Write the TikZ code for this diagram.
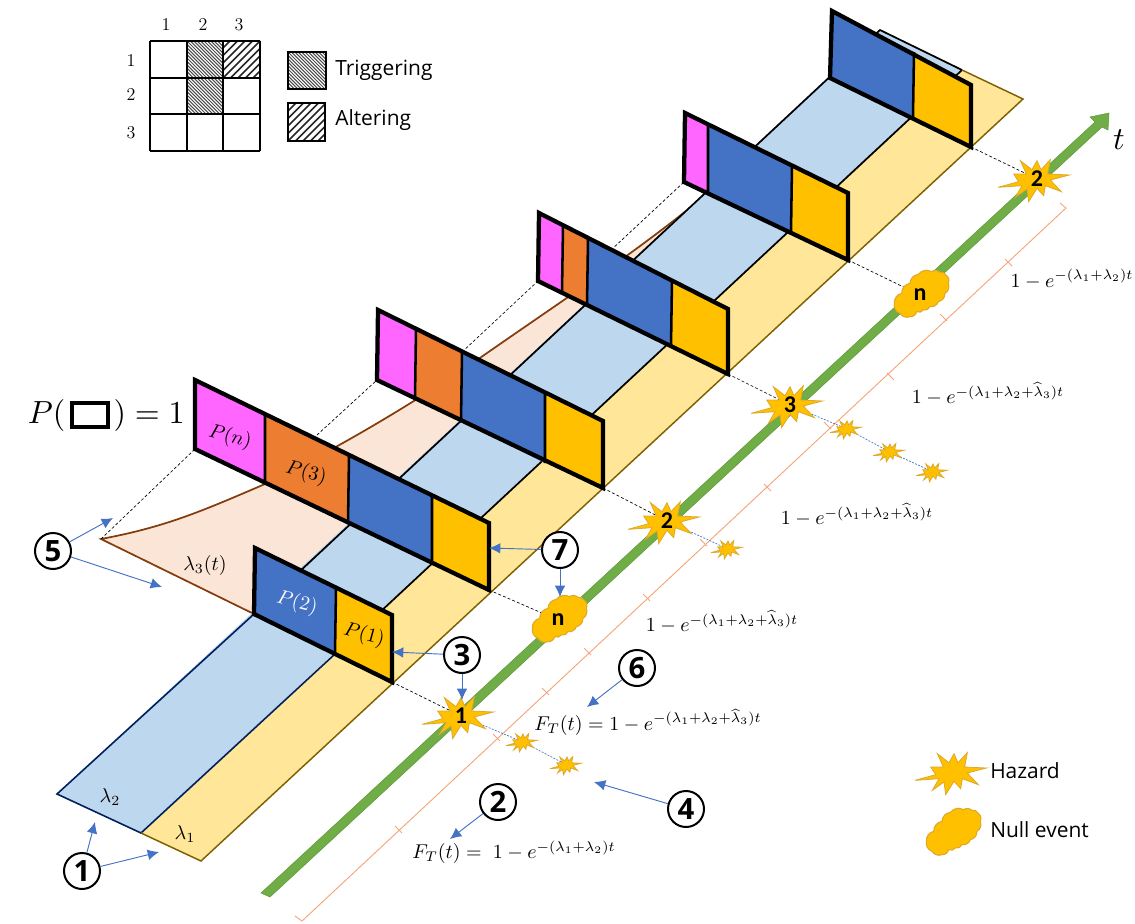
\documentclass[tikz,border=0pt]{standalone}
\usepackage{amsmath}
\usepackage{fontspec}
\newfontfamily\uifont{Open Sans}
\newfontfamily\eventfont{Carlito}
\usetikzlibrary{arrows.meta,calc}
\definecolor{pblue}{HTML}{4472C4}
\definecolor{pyellow}{HTML}{FFC000}
\definecolor{ppink}{HTML}{FF66FF}
\definecolor{porange}{HTML}{ED7D31}
\definecolor{lblue}{HTML}{BDD7EE}
\definecolor{lyellow}{HTML}{FFE699}
\definecolor{lorange}{HTML}{FBE5D6}
\definecolor{brownline}{HTML}{843C0C}
\definecolor{navyline}{HTML}{002060}
\definecolor{olivedge}{HTML}{7F6000}
\definecolor{axisgreen}{HTML}{70AD47}
\definecolor{axisedge}{HTML}{5E9A3A}
\definecolor{bracket}{HTML}{F4A67A}
\definecolor{goldedge}{HTML}{DDA92A}
\newcommand{\hatchcell}[8]{%
  \begin{scope}
    \clip (#1,#2) rectangle (#3,#4);
    \foreach \k in {-22,...,22} {
      \ifnum#5=1
        \draw[line width=#7,#8] ($(#1,#2)+(\k*#6,0)$) -- ++(80,80);
        \draw[line width=#7,#8] ($(#1,#2)+(\k*#6,0)$) -- ++(-80,-80);
      \else
        \draw[line width=#7,#8] ($(#1,#4)+(\k*#6,0)$) -- ++(80,-80);
        \draw[line width=#7,#8] ($(#1,#4)+(\k*#6,0)$) -- ++(-80,80);
      \fi
    }
  \end{scope}}
\tikzset{
  x=0.75pt,y=-0.75pt,
  hazardshape/.pic={\filldraw[fill=pyellow,draw=goldedge,line width=0.6pt,line join=miter]
    (-117,25)--(-55,8)--(-70,-15)--(-32,-15)--(-50,-55)--(-15,-28)--(0,-55)--(12,-28)--(40,-58)--(32,-15)--(97,-12)--(40,3)--(73,38)--(25,20)--(20,50)--(0,28)--(-25,68)--(-30,30)--(-65,55)--(-45,20)--cycle;},
  cloudshape/.pic={\filldraw[fill=pyellow,draw=goldedge,line width=0.8pt]
    (-77,25) to[bend left=40] (-55,-5) to[bend left=40] (-30,-35) to[bend left=40] (-5,-62) to[bend left=40] (35,-70) to[bend left=40] (60,-68) to[bend left=40] (78,-60) to[bend left=40] (85,-35) to[bend left=40] (75,-5) to[bend left=40] (55,20) to[bend left=40] (30,35) to[bend left=40] (10,45) to[bend left=40] (-10,50) to[bend left=40] (-30,65) to[bend left=40] (-60,55) to[bend left=40] cycle;},
  numcircle/.style={circle,draw=black,line width=1.5pt,fill=white,minimum size=27pt,inner sep=0pt,font=\uifont\bfseries\fontsize{22}{22}\selectfont},
  eventlabel/.style={inner sep=0pt,font=\eventfont\bfseries\fontsize{18}{18}\selectfont},
  callout/.style={draw=pblue,line width=0.7pt,-{Latex[length=8.5pt,width=8pt]}},
  panel/.style={draw=black,line width=3.2pt,line join=miter},
  divider/.style={draw=black,line width=1.9pt},
  guide/.style={draw=black,line width=0.5pt,dash pattern=on 2.2pt off 1.6pt},
  trail/.style={draw=pblue,line width=0.5pt,dash pattern=on 1.5pt off 1pt},
  tickmark/.style={draw=bracket,line width=0.7pt},
  mathlabel/.style={inner sep=0pt,scale=1.5},
  ptext/.style={inner sep=0pt,scale=1.5,rotate=-15},
  uitext/.style={inner sep=0pt,anchor=west,font=\uifont\fontsize{15.7}{15.7}\selectfont},
  gridnum/.style={inner sep=0pt,font=\fontsize{13.5}{13.5}\selectfont},
  cellbox/.style={draw=black,line width=1.4pt}
}
\begin{document}
\begin{tikzpicture}
\useasboundingbox (0,0) rectangle (1135,924);
% ribbon coordinates
\coordinate (A) at (57,794); \coordinate (B) at (141,833); \coordinate (C) at (201,861);
\coordinate (Atop) at (880,30); \coordinate (Btop) at (962,70); \coordinate (Ctop) at (1023,99);
\coordinate (apex) at (101,539);
% lambda 3 area
\fill[lorange] (apex) .. controls (165,527) and (200,512) .. (265,484) .. controls (330,452) and (400,412) .. (477,360) .. controls (560,302) and (640,250) .. (708,193) -- (254,614) -- cycle;
\draw[brownline,line width=1.3pt] (254,614) -- (apex) .. controls (165,527) and (200,512) .. (265,484) .. controls (330,452) and (400,412) .. (477,360) .. controls (560,302) and (640,250) .. (708,193);
% bands
\fill[lblue] (A) -- (B) -- (Btop) -- (Atop) -- cycle;
\fill[lyellow] (B) -- (C) -- (Ctop) -- (Btop) -- cycle;
\draw[navyline,line width=1.2pt] (254,614) -- (A) -- (B) -- (335,654);
\draw[black,line width=1.3pt] (254,614) -- (Atop) -- (Btop);
\draw[black,line width=1.3pt] (335,654) -- (Btop);
\draw[olivedge,line width=1.1pt] (B) -- (C) -- (Ctop) -- (Btop);
% dotted guides
\draw[guide] (apex) -- (195,449);
\draw[guide] (317,435) -- (377,380);
\draw[guide] (462,352) -- (538,281);
\draw[guide] (611,250) -- (684,182);
% panel 6
\fill[pblue] (832,11) -- (914,52) -- (913,117) -- (830,78) -- cycle;
\fill[pyellow] (914,52) -- (971,85) -- (971,147) -- (913,117) -- cycle;
\draw[divider] (914,52) -- (913,117);
\draw[panel] (832,11) -- (971,85) -- (971,147) -- (830,78) -- cycle;
% panel 5
\fill[ppink] (685,113) -- (708,125) -- (708,193) -- (684,182) -- cycle;
\fill[pblue] (708,125) -- (792,166) -- (791,232) -- (708,193) -- cycle;
\fill[pyellow] (792,166) -- (848,193) -- (848,260) -- (791,232) -- cycle;
\draw[divider] (708,125) -- (708,193) (792,166) -- (791,232);
\draw[panel] (685,113) -- (848,193) -- (848,260) -- (684,182) -- cycle;
% panel 4
\fill[ppink] (539,213) -- (563,226) -- (562,292) -- (538,281) -- cycle;
\fill[porange] (563,226) -- (588,239) -- (587,305) -- (562,292) -- cycle;
\fill[pblue] (588,239) -- (672,280) -- (671,347) -- (587,305) -- cycle;
\fill[pyellow] (672,280) -- (728,309) -- (728,374) -- (671,347) -- cycle;
\draw[divider] (563,226) -- (562,292) (588,239) -- (587,305) (672,280) -- (671,347);
\draw[panel] (539,213) -- (728,309) -- (728,374) -- (538,281) -- cycle;
% panel 3
\fill[ppink] (378,310) -- (416,328) -- (415,398) -- (377,380) -- cycle;
\fill[porange] (416,328) -- (462,352) -- (461,421) -- (415,398) -- cycle;
\fill[pblue] (462,352) -- (545,393) -- (545,463) -- (461,421) -- cycle;
\fill[pyellow] (545,393) -- (603,421) -- (603,488) -- (545,463) -- cycle;
\draw[divider] (416,328) -- (415,398) (462,352) -- (461,421) (545,393) -- (545,463);
\draw[panel] (378,310) -- (603,421) -- (603,488) -- (377,380) -- cycle;
% panel 2
\fill[ppink] (195,380) -- (265,414) -- (265,484) -- (195,449) -- cycle;
\fill[porange] (265,414) -- (349,456) -- (348,522) -- (265,484) -- cycle;
\fill[pblue] (349,456) -- (432,497) -- (432,563) -- (348,522) -- cycle;
\fill[pyellow] (432,497) -- (489,523) -- (489,590) -- (432,563) -- cycle;
\draw[divider] (265,414) -- (265,484) (349,456) -- (348,522) (432,497) -- (432,563);
\draw[panel] (195,380) -- (489,523) -- (489,590) -- (195,449) -- cycle;
% panel 1
\fill[pblue] (255,548) -- (336,589) -- (335,654) -- (254,614) -- cycle;
\fill[pyellow] (336,589) -- (392,615) -- (392,682) -- (335,654) -- cycle;
\draw[divider] (336,589) -- (335,654);
\draw[panel] (255,548) -- (392,615) -- (392,682) -- (254,614) -- cycle;
% axis
\filldraw[fill=axisgreen,draw=axisedge,line width=0.4pt,line join=miter] (261,893) -- (1095,122) -- (1090,117) -- (1109,113) -- (1108,130) -- (1102,127) -- (270,897) -- cycle;
\node[inner sep=0pt,scale=2.4] (tlabel) at (1119,140) {$t$};
% bracket
\coordinate (brS) at (302,921); \coordinate (brE) at (1066,208);
\draw[tickmark] (295,916) -- (brS) -- (brE) -- (1060,203);
\foreach \px/\py in {400/830,498/738,547/692,589/652,648/598,705/543,769/488,829/426,892/377,945/318,1010/263}
  \draw[tickmark] (\px-5,\py-4) -- (\px+2,\py+3);
% small hazard trails
\node[inner sep=0pt] (s1a) at (523,742) {}; \node[inner sep=0pt] (s1b) at (567,765) {};
\node[inner sep=0pt] (s2a) at (728,549) {};
\node[inner sep=0pt] (s3a) at (847,429) {}; \node[inner sep=0pt] (s3b) at (890,452) {}; \node[inner sep=0pt] (s3c) at (933,472) {};
% events
\coordinate (ev1) at (461,716);
\coordinate (evn1) at (558,620);
\coordinate (ev2) at (667,521);
\coordinate (ev3) at (790,405);
\coordinate (evn2) at (920,295);
\coordinate (ev4) at (1037,179);
\coordinate (p1br) at (392,682); \coordinate (p2br) at (489,590); \coordinate (p3br) at (603,488);
\coordinate (p4br) at (728,374); \coordinate (p5br) at (848,260); \coordinate (p6br) at (971,147);
\draw[guide] (p1br) -- (ev1); \draw[guide] (p2br) -- (evn1); \draw[guide] (p3br) -- (ev2);
\draw[guide] (p4br) -- (ev3); \draw[guide] (p5br) -- (evn2); \draw[guide] (p6br) -- (ev4);
\draw[trail] (ev1) -- (s1a) -- (s1b);
\draw[trail] (ev2) -- (s2a);
\draw[trail] (ev3) -- (s3a) -- (s3b) -- (s3c);
\foreach \ex/\ey in {461/716,667/521,790/405,1037/179}
  \pic[scale=.333] at (\ex,\ey) {hazardshape};
\foreach \ex/\ey in {558/620,920/295}
  \pic[scale=.333] at (\ex,\ey) {cloudshape};
\foreach \ex/\ey in {523/742,567/765,728/549,847/429,890/452,933/472}
  \pic[scale=.145] at (\ex,\ey) {hazardshape};
\node[eventlabel] (lab1) at (ev1) {1};
\node[eventlabel] (labn1) at (evn1) {n};
\node[eventlabel] (lab2) at (ev2) {2};
\node[eventlabel] (lab3) at (ev3) {3};
\node[eventlabel] (labn2) at (evn2) {n};
\node[eventlabel] (lab4) at (ev4) {2};
% panel text
\node[ptext] at (230,437) {$P(n)$};
\node[ptext] at (306,473) {$P(3)$};
\node[ptext,text=white] at (297,603) {$P(2)$};
\node[ptext] at (364,635) {$P(1)$};
\node[mathlabel] at (205,565) {$\lambda_3(t)$};
\node[mathlabel] at (110,797) {$\lambda_2$};
\node[mathlabel] at (185,834) {$\lambda_1$};
% P(box)=1
\node[inner sep=0pt,anchor=east,scale=2.4] (pleft) at (66,415) {$P($};
\node[draw=black,line width=3pt,minimum width=27pt,minimum height=18pt,inner sep=0pt] (pbox) at (90,415) {};
\node[inner sep=0pt,anchor=west,scale=2.4] (pright) at (113,415) {$)=1$};
% formulas
\node[mathlabel] (f1) at (514,852) {$F_T(t)=\;1-e^{-(\lambda_1+\lambda_2)t}$};
\node[mathlabel] (f2) at (648,722) {$F_T(t)=1-e^{-(\lambda_1+\lambda_2+\widehat{\lambda}_3)t}$};
\node[mathlabel] at (722,622) {$1-e^{-(\lambda_1+\lambda_2+\widehat{\lambda}_3)t}$};
\node[mathlabel] at (857,515) {$1-e^{-(\lambda_1+\lambda_2+\widehat{\lambda}_3)t}$};
\node[mathlabel] at (988,394) {$1-e^{-(\lambda_1+\lambda_2+\widehat{\lambda}_3)t}$};
\node[mathlabel] at (1072,279) {$1-e^{-(\lambda_1+\lambda_2)t}$};
% numbered circles
\node[numcircle] (n1) at (82,871) {1};
\node[numcircle] (n2) at (498,802) {2};
\node[numcircle] (n3) at (462,655) {3};
\node[numcircle] (n4) at (686,809) {4};
\node[numcircle] (n5) at (53,551) {5};
\node[numcircle] (n6) at (637,668) {6};
\node[numcircle] (n7) at (560,550) {7};
\coordinate (t1a) at (95,822); \coordinate (t1b) at (159,852);
\coordinate (t2) at (450,839);
\coordinate (t3a) at (392,652); \coordinate (t3b) at (462,700);
\coordinate (t4) at (594,782);
\coordinate (t5a) at (113,518); \coordinate (t5b) at (162,587);
\coordinate (t6) at (587,707);
\coordinate (t7a) at (489,548); \coordinate (t7b) at (560,597);
\draw[callout] (n1) -- (t1a); \draw[callout] (n1) -- (t1b);
\draw[callout] (n2) -- (t2);
\draw[callout] (n3) -- (t3a); \draw[callout] (n3) -- (t3b);
\draw[callout] (n4) -- (t4);
\draw[callout] (n5) -- (t5a); \draw[callout] (n5) -- (t5b);
\draw[callout] (n6) -- (t6);
\draw[callout] (n7) -- (t7a); \draw[callout] (n7) -- (t7b);
% matrix
\hatchcell{187}{41}{223}{78}{1}{3.4}{0.75pt}{black!70}
\hatchcell{187}{78}{223}{114}{1}{3.4}{0.75pt}{black!70}
\hatchcell{223}{41}{260}{78}{2}{7.5}{1.3pt}{black!85}
\foreach \gx in {150,187,223,260} \draw[cellbox] (\gx,41) -- (\gx,151);
\foreach \gy in {41,78,114,151} \draw[cellbox] (150,\gy) -- (260,\gy);
\node[gridnum] at (166,25) {1}; \node[gridnum] at (203,25) {2}; \node[gridnum] at (239,25) {3};
\node[gridnum] at (131,61) {1}; \node[gridnum] at (131,95) {2}; \node[gridnum] at (131,133) {3};
\hatchcell{288}{52}{326}{89}{1}{3.4}{0.75pt}{black!70}
\draw[cellbox] (288,52) rectangle (326,89);
\hatchcell{288}{103}{325}{141}{2}{7.5}{1.3pt}{black!85}
\draw[cellbox] (288,103) rectangle (325,141);
\node[uitext] at (335,70) {Triggering};
\node[uitext] at (335,120) {Altering};
% legend
\pic[scale=.333] at (954,772) {hazardshape};
\pic[scale=.333] at (952,833) {cloudshape};
\node[uitext] at (990,771) {Hazard};
\node[uitext] at (990,830) {Null event};
\end{tikzpicture}
\end{document}
